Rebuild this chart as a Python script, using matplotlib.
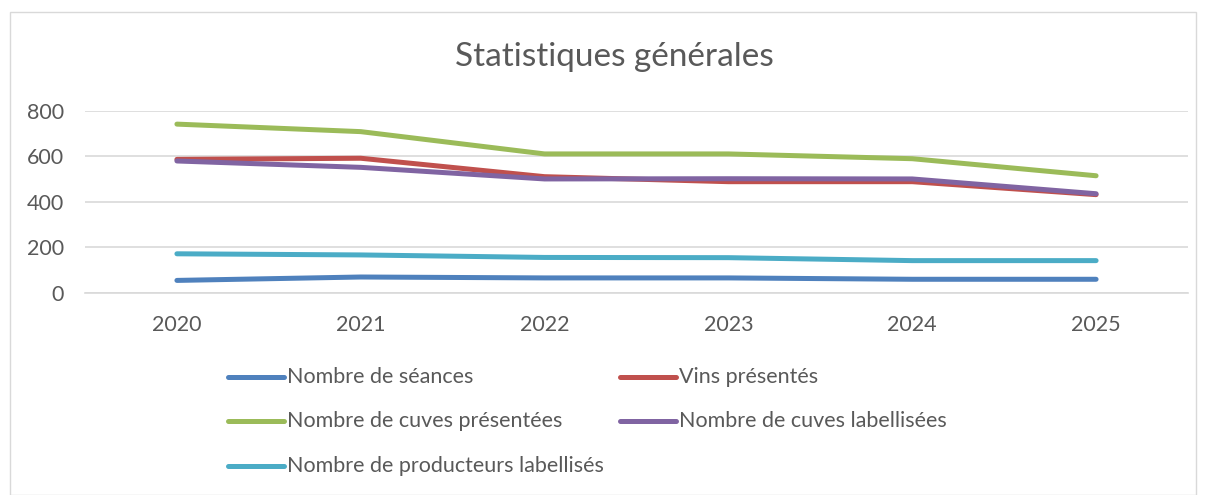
import matplotlib.pyplot as plt
from matplotlib.patches import Rectangle
from matplotlib.lines import Line2D

plt.rcParams['font.family'] = ['Lato', 'DejaVu Sans']

years = ['2020', '2021', '2022', '2023', '2024', '2025']
seances = [54, 69, 65, 65, 59, 59]
vins = [586, 591, 510, 488, 488, 431]
cuves_pres = [741, 708, 610, 610, 589, 514]
cuves_lab = [579, 551, 500, 501, 500, 435]
producteurs = [171, 166, 155, 154, 141, 141]

series = [
    ('Nombre de séances', seances, '#4F81BD'),
    ('Vins présentés', vins, '#C0504D'),
    ('Nombre de cuves présentées', cuves_pres, '#9BBB59'),
    ('Nombre de cuves labellisées', cuves_lab, '#8064A2'),
    ('Nombre de producteurs labellisés', producteurs, '#4BACC6'),
]

txt = '#595959'
fig = plt.figure(figsize=(12.08, 4.95), dpi=100)
fig.patches.append(Rectangle((10 / 1208, 0), 1186 / 1208, 1 - 12 / 495,
                             transform=fig.transFigure, fill=False,
                             edgecolor='#D9D9D9', lw=1))
ax = fig.add_axes([85 / 1208, 1 - 292.7 / 495, 1103 / 1208, 182 / 495])

x = list(range(len(years)))
for name, vals, col in series:
    ax.plot(x, vals, color=col, lw=3.6, solid_capstyle='round',
            solid_joinstyle='round', label=name)

ax.set_xlim(-0.5, len(years) - 0.5)
ax.set_ylim(0, 800)
ax.set_yticks([0, 200, 400, 600, 800])
ax.set_xticks(x)
ax.set_xticklabels(years)
ax.grid(axis='y', color='#D9D9D9', lw=1.2)
ax.set_axisbelow(True)
for s in ['top', 'right', 'left']:
    ax.spines[s].set_visible(False)
ax.spines['bottom'].set_color('#D9D9D9')
ax.spines['bottom'].set_linewidth(1.2)
ax.tick_params(length=0, labelsize=15.5, labelcolor=txt)
ax.tick_params(axis='x', pad=16)
ax.tick_params(axis='y', pad=15)

fig.text(614 / 1208, 1 - 57 / 495, 'Statistiques générales', ha='center',
         va='center', fontsize=24, color=txt)

# legend, placed manually in 2 columns
pos = [(228, 377), (620, 377), (228, 421), (620, 421), (228, 466)]
for (name, vals, col), (px, py) in zip(series, pos):
    yy = 1 - py / 495
    fig.add_artist(Line2D([px / 1208, (px + 56) / 1208], [yy, yy],
                          color=col, lw=3.6, solid_capstyle='round',
                          transform=fig.transFigure))
    fig.text((px + 59) / 1208, yy, name, ha='left', va='center',
             fontsize=15.5, color=txt)

fig.savefig('out.png', dpi=100)
